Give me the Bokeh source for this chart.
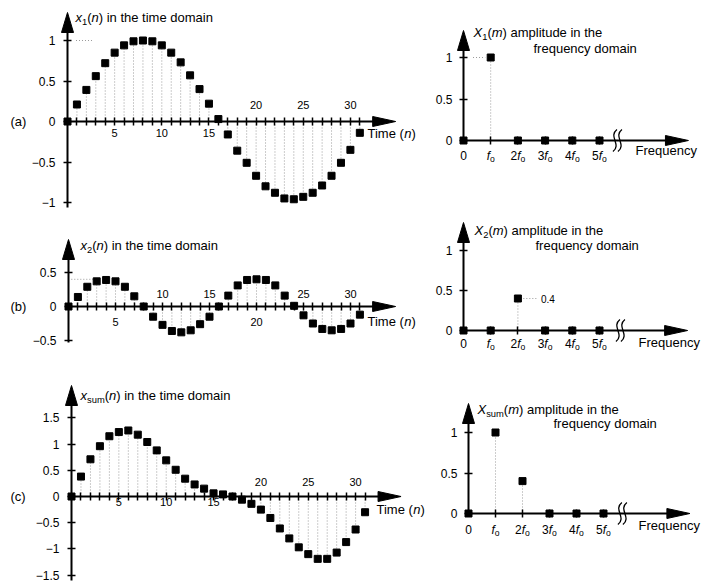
from bokeh.plotting import figure
from bokeh.models import Range1d, LinearAxis, FixedTicker, CustomJSTickFormatter
from bokeh.layouts import column, row
from bokeh.embed import file_html
from bokeh.resources import INLINE
from bokeh.core.properties import value

FONT = "Liberation Sans"
STEM = "#9a9a9a"

# ---------------- data ----------------
n_time = list(range(32))
x1_time = [0.0, 0.21, 0.39, 0.56, 0.72, 0.85, 0.94, 0.99, 1.0, 0.99, 0.94, 0.85, 0.73, 0.57, 0.40, 0.22,
           0.03, -0.16, -0.36, -0.51, -0.67, -0.80, -0.88, -0.95, -0.96, -0.93, -0.88, -0.79, -0.67, -0.51, -0.35, -0.14]
x2_time = [0.0, 0.14, 0.29, 0.37, 0.39, 0.37, 0.29, 0.15, 0.0, -0.15, -0.27, -0.36, -0.38, -0.35, -0.26, -0.15,
           0.0, 0.16, 0.31, 0.39, 0.40, 0.39, 0.31, 0.16, 0.01, -0.13, -0.25, -0.33, -0.35, -0.33, -0.25, -0.12]
xsum_time = [0.0, 0.38, 0.71, 0.96, 1.15, 1.23, 1.26, 1.18, 1.04, 0.88, 0.69, 0.51, 0.34, 0.23, 0.15, 0.06,
             0.04, 0.0, -0.06, -0.14, -0.25, -0.41, -0.61, -0.80, -0.97, -1.10, -1.19, -1.19, -1.07, -0.87, -0.63, -0.30]

m_freq = [0, 1, 2, 3, 4, 5]
X1_mag = [0.0, 1.0, 0.0, 0.0, 0.0, 0.0]
X2_mag = [0.0, 0.0, 0.4, 0.0, 0.0, 0.0]
Xsum_mag = [0.0, 1.0, 0.4, 0.0, 0.0, 0.0]

time_ticks = list(range(1, 32))
a_below, a_above = [5, 10, 15], [20, 25, 30]
b_below, b_above = [5, 20], [10, 15, 25, 30]
c_below, c_above = [5, 10, 15], [20, 25, 30]
a_yticks = [-1, -0.5, 0, 0.5, 1]
b_yticks = [-0.5, 0, 0.5]
c_yticks = [-1.5, -1, -0.5, 0, 0.5, 1, 1.5]
freq_ticks = [1, 2, 3, 4, 5]
freq_yticks = [0, 0.5, 1]
freq_prefix = ["0", "", "2", "3", "4", "5"]
panel_tags = ["(a)", "(b)", "(c)"]
time_subs = ["1", "2", "sum"]
X2_note = "0.4"

# ---------------- helpers ----------------
CW = {' ': 278, '(': 333, ')': 333, '.': 278, 'a': 556, 'b': 556, 'c': 500, 'd': 556, 'e': 556,
      'f': 278, 'g': 556, 'h': 556, 'i': 222, 'l': 222, 'm': 833, 'n': 556, 'o': 556, 'p': 556,
      'q': 556, 'r': 333, 's': 500, 't': 278, 'u': 556, 'y': 500, 'x': 500, 'F': 611, 'T': 611,
      'X': 667}


def tw(s, size):
    return sum(CW.get(ch, 556) for ch in s) * size / 1000.0


class Panel:
    def __init__(self, w, h, ox, oy, sx, sy):
        self.w, self.h, self.ox, self.oy, self.sx, self.sy = w, h, ox, oy, sx, sy
        p = figure(width=w, height=h, x_range=Range1d(-ox / sx, (w - ox) / sx),
                   y_range=Range1d((oy - h) / sy, oy / sy), output_backend="svg",
                   toolbar_location=None, x_axis_location=None, y_axis_location=None,
                   min_border=0, outline_line_color=None)
        p.grid.visible = False
        self.fig = p

    def X(self, xl):
        return (xl - self.ox) / self.sx

    def Y(self, yl):
        return (self.oy - yl) / self.sy


def rich(P, xl, yl, segs, size, anchor="left"):
    widths = []
    for s, k in segs:
        sz = size * 0.72 if k.startswith("s") else size
        widths.append(tw(s, sz))
    total = sum(widths)
    off = 0.0 if anchor == "left" else -total / 2.0
    for (s, k), w in zip(segs, widths):
        sub = k.startswith("s")
        sz = size * 0.72 if sub else size
        P.fig.text(x=[P.X(xl)], y=[P.Y(yl)], text=[s], x_offset=off,
                   y_offset=(size * 0.32 if sub else 0),
                   text_font=value(FONT), text_font_size=f"{sz:.1f}px",
                   text_font_style=("italic" if "i" in k else "normal"),
                   text_baseline="middle", text_align="left", text_color="black")
        off += w


def up_arrow(P, x, ytip, L=20, hw=6):
    P.fig.patch([x - hw / P.sx, x, x + hw / P.sx], [ytip - L / P.sy, ytip, ytip - L / P.sy],
                color="black")


def right_arrow(P, xtip, y, L=23, hw=5):
    P.fig.patch([xtip - L / P.sx, xtip, xtip - L / P.sx], [y + hw / P.sy, y, y - hw / P.sy],
                color="black")


MINUS = CustomJSTickFormatter(code="return String(tick).replace('-', '\\u2212');")


def tick_axis_x(P, ticks, x_end):
    ax = LinearAxis(fixed_location=0, ticker=FixedTicker(ticks=ticks), bounds=(0, x_end),
                    axis_line_width=2, axis_line_color="black", major_tick_in=4, major_tick_out=4,
                    major_tick_line_width=1.5, major_tick_line_color="black",
                    minor_tick_line_color=None, major_label_text_color=None,
                    major_label_text_font_size="1px")
    P.fig.add_layout(ax, "below")


def label_axis_x(P, ticks, side, standoff, size=11):
    ax = LinearAxis(fixed_location=0, ticker=FixedTicker(ticks=ticks), axis_line_color=None,
                    major_tick_line_color=None, major_tick_in=0, major_tick_out=0,
                    minor_tick_line_color=None, major_label_standoff=standoff,
                    major_label_text_font=FONT, major_label_text_font_size=f"{size}px",
                    major_label_text_color="black")
    P.fig.add_layout(ax, side)


def axis_y(P, ticks, ybot, ytop, standoff=8, size=12):
    ay = LinearAxis(fixed_location=0, ticker=FixedTicker(ticks=ticks), bounds=(ybot, ytop),
                    axis_line_width=2, axis_line_color="black", major_tick_in=4, major_tick_out=4,
                    major_tick_line_width=1.5, major_tick_line_color="black",
                    minor_tick_line_color=None, major_label_standoff=standoff,
                    major_label_text_font=FONT, major_label_text_font_size=f"{size}px",
                    major_label_text_color="black", formatter=MINUS)
    P.fig.add_layout(ay, "left")


def draw_time(P, vals, below, above, yticks, ybot, ytip_px, xtip, tag, sub,
              title_px, time_px, st_below, st_above, hline=None):
    p = P.fig
    p.segment(x0=n_time, y0=[0] * len(n_time), x1=n_time, y1=vals, line_color=STEM,
              line_dash="1 2", line_width=1)
    if hline is not None:
        hy, hx0, hx1 = hline
        p.segment(x0=[hx0], y0=[hy], x1=[hx1], y1=[hy], line_color=STEM, line_dash="1 2",
                  line_width=1)
    ytip = P.Y(ytip_px)
    tick_axis_x(P, time_ticks, xtip - 14 / P.sx)
    label_axis_x(P, below, "below", st_below)
    label_axis_x(P, above, "above", st_above)
    axis_y(P, yticks, ybot, ytip - 12 / P.sy)
    up_arrow(P, 0, ytip)
    right_arrow(P, xtip, 0)
    p.scatter(n_time, vals, marker="square", size=7, color="black")
    # texts
    p.text(x=[P.X(10)], y=[0], text=[tag], text_font=value(FONT), text_font_size="13px",
           text_baseline="middle", text_align="left", text_color="black")
    rich(P, title_px[0], title_px[1],
         [("x", "i"), (sub, "s"), ("(", "n"), ("n", "i"), (") in the time domain", "n")], 13)
    rich(P, time_px[0], time_px[1], [("Time (", "n"), ("n", "i"), (")", "n")], 13)


def draw_freq(P, mags, ytip_px, xtip, brk, sub, t1_px, t2_px, freq_px, lab_y, hline=None,
              note=None):
    p = P.fig
    p.segment(x0=m_freq, y0=[0] * len(m_freq), x1=m_freq, y1=mags, line_color=STEM,
              line_dash="1 2", line_width=1)
    if hline is not None:
        hy, hx0, hx1 = hline
        p.segment(x0=[hx0], y0=[hy], x1=[hx1], y1=[hy], line_color=STEM, line_dash="1 2",
                  line_width=1)
    ytip = P.Y(ytip_px)
    tick_axis_x(P, freq_ticks, xtip - 14 / P.sx)
    axis_y(P, freq_yticks, 0, ytip - 12 / P.sy, standoff=7)
    up_arrow(P, 0, ytip)
    right_arrow(P, xtip, 0)
    # axis break mark
    for dx in (-2.5, 2.5):
        bx = brk + dx / P.sx
        p.bezier(x0=[bx - 2 / P.sx], y0=[-11 / P.sy], x1=[bx + 2 / P.sx], y1=[11 / P.sy],
                 cx0=[bx + 7 / P.sx], cy0=[-4 / P.sy], cx1=[bx - 7 / P.sx], cy1=[4 / P.sy],
                 line_color="black", line_width=1.3)
    p.scatter(m_freq, mags, marker="square", size=7, color="black")
    if note is not None:
        p.text(x=[note[0]], y=[note[1]], text=[note[2]], text_font=value(FONT),
               text_font_size="10px", text_baseline="middle", text_align="left",
               text_color="black")
    rich(P, t1_px[0], t1_px[1],
         [("X", "i"), (sub, "s"), ("(", "n"), ("m", "i"), (") amplitude in the", "n")], 13)
    rich(P, t2_px[0], t2_px[1], [("frequency domain", "n")], 13)
    rich(P, freq_px[0], freq_px[1], [("Frequency", "n")], 13)
    for mm, pre in zip(m_freq, freq_prefix):
        if mm == 0:
            segs = [(pre, "n")]
        else:
            segs = ([(pre, "n")] if pre else []) + [("f", "i"), ("o", "s")]
        rich(P, P.ox + mm * P.sx, lab_y, segs, 12, anchor="center")


# ---------------- panels ----------------
La = Panel(430, 212, 67, 121, 9.43, 81)
Ra = Panel(272, 212, 33, 140, 27.2, 83)
Lb = Panel(430, 145, 68, 94, 9.4, 68)
Rb = Panel(272, 145, 33, 118, 27.2, 80)
Lc = Panel(430, 226, 71, 139, 9.47, 52.4)
Rc = Panel(272, 226, 38, 156, 27.0, 81)

draw_time(La, x1_time, a_below, a_above, a_yticks, -1.06, 12, 34.8, panel_tags[0], time_subs[0],
          (75, 17), (367, 133), 7, 13, hline=(1.0, 0.9, 2.6))
draw_time(Lb, x2_time, b_below, b_above, b_yticks, -0.53, 27, 34.8, panel_tags[1], time_subs[1],
          (80, 33), (367, 109), 11, 9, hline=(0.4, 0.3, 3.0))
draw_time(Lc, xsum_time, c_below, c_above, c_yticks, -1.6, 28, 34.8, panel_tags[2], time_subs[2],
          (80, 38), (376, 152), 1, 11)

draw_freq(Ra, X1_mag, 30, 8.27, 5.66, "1", (43, 32), (103, 48), (205, 150), 155,
          hline=(1.0, 0.35, 0.8))
draw_freq(Rb, X2_mag, 10, 8.24, 5.77, "2", (44, 18), (105, 33), (208, 130), 131,
          hline=(0.4, 2.2, 2.75), note=(2.85, 0.4, X2_note))
draw_freq(Rc, Xsum_mag, 46, 8.2, 5.7, "sum", (47, 52), (123, 66), (208, 168), 172)

layout = column(row(La.fig, Ra.fig), row(Lb.fig, Rb.fig), row(Lc.fig, Rc.fig))

with open("out.html", "w") as f:
    f.write(file_html(layout, INLINE))
